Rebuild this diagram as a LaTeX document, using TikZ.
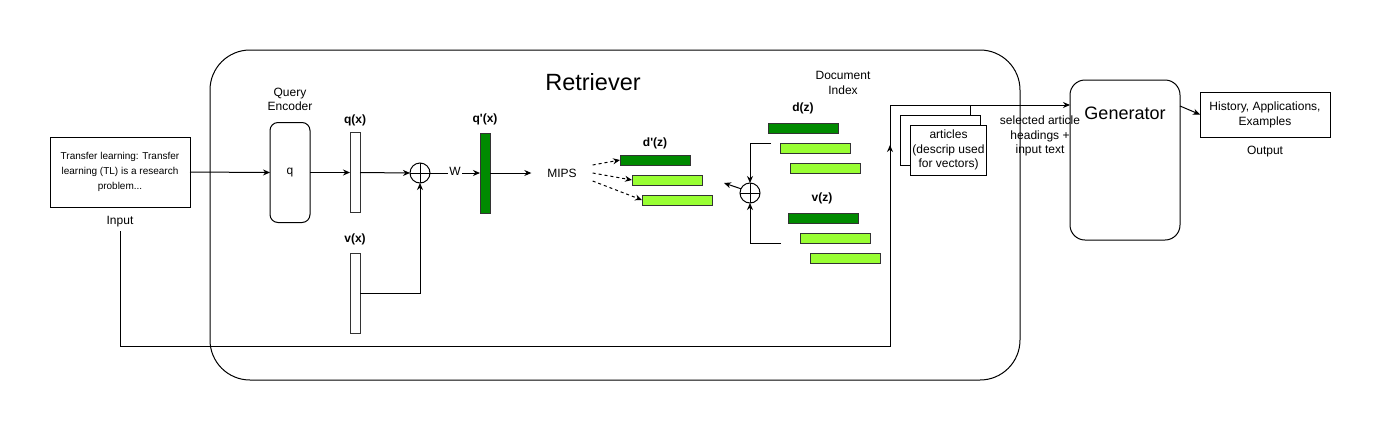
\documentclass[tikz,border=0pt]{standalone}
\usepackage{fontspec}
\setmainfont[Ligatures=TeXOff]{Liberation Sans}
\usetikzlibrary{arrows.meta,calc}
\definecolor{dgreen}{HTML}{008A00}
\definecolor{lgreen}{HTML}{99FF33}
\begin{document}
\begin{tikzpicture}[x=1pt,y=-1pt,
  every node/.style={inner sep=0pt, outer sep=0pt},
  txt/.style={font=\fontsize{12}{14.5}\selectfont, align=center},
  btxt/.style={font=\fontsize{12}{14.5}\selectfont\bfseries},
  ln/.style={line width=1pt, draw=black},
  arr/.style={ln, -{Stealth[length=7pt,width=6pt]}},
  darr/.style={arr, dash pattern=on 3pt off 3pt},
  plainbox/.style={draw, line width=1pt, fill=white},
  vbar/.style={draw=black!80, line width=1pt, minimum width=10pt, minimum height=80pt},
  hbar/.style={draw=black!80, line width=1pt, minimum width=70pt, minimum height=10pt},
  plus/.style={draw, circle, line width=1pt, minimum size=20pt,
    path picture={\draw[line width=1pt] (path picture bounding box.north) -- (path picture bounding box.south)
      (path picture bounding box.west) -- (path picture bounding box.east);}},
]
\fill[white] (0,0) rectangle (1382,432);
\useasboundingbox (0,0) rectangle (1382,432);

% Retriever container
\node[draw, line width=1pt, rounded corners=40pt, minimum width=810pt, minimum height=330pt] (ret) at (615,215) {};
\node[font=\fontsize{23.5}{26}\selectfont] (rett) at (593,82) {Retriever};

% Input
\node[plainbox, minimum width=140pt, minimum height=70pt, align=center, font=\fontsize{10}{15}\selectfont] (inp) at (120,172)
  {Transfer learning: Transfer\\learning (TL) is a research\\problem...};
\node[txt] (inl) at (120,222) {Input};

% Query encoder
\node[txt, font=\fontsize{12}{14}\selectfont] (qel) at (290,99) {Query\\Encoder};
\node[plainbox, rounded corners=8pt, minimum width=40pt, minimum height=100pt] (q) at (290,172.5) {};
\node[txt] (qt) at (290,173) {q};

% q(x), v(x)
\node[btxt] (qxl) at (355,120) {q(x)};
\node[vbar] (qx) at (355,172.5) {};
\node[btxt] (vxl) at (355,239) {v(x)};
\node[vbar] (vx) at (355,293) {};

\node[plus] (p1) at (420,173) {};

% q'(x)
\node[btxt] (qpxl) at (485,119) {q'(x)};
\node[vbar, fill=dgreen] (qpx) at (485,173) {};

% MIPS
\node[txt, minimum height=16pt, outer xsep=16pt] (mips) at (562,173) {MIPS};

% d'(z)
\node[btxt] (dpzl) at (655,143) {d'(z)};
\node[hbar, fill=dgreen] (dz1) at (655,160) {};
\node[hbar, fill=lgreen] (dz2) at (667,180) {};
\node[hbar, fill=lgreen] (dz3) at (677,200) {};

% Document index
\node[txt, font=\fontsize{12}{15.5}\selectfont] (dil) at (843,83) {Document\\Index};
\node[btxt] (dzl) at (803,108) {d(z)};
\node[hbar, fill=dgreen] (d1) at (803,128) {};
\node[hbar, fill=lgreen] (d2) at (815,148) {};
\node[hbar, fill=lgreen] (d3) at (825,168) {};
\node[btxt] (vzl) at (822,198) {v(z)};
\node[hbar, fill=dgreen] (v1) at (823,218) {};
\node[hbar, fill=lgreen] (v2) at (835,238) {};
\node[hbar, fill=lgreen] (v3) at (845,258) {};

\node[plus] (p2) at (750,193) {};

% articles stack
\node[plainbox, minimum width=80pt, minimum height=50pt] (mid) at (940,140) {};
\node[plainbox, minimum width=76pt, minimum height=50pt, txt, font=\fontsize{12}{14.2}\selectfont] (art) at (948.5,150)
  {articles\\(descrip used\\for vectors)};

\node[txt, font=\fontsize{12}{14.5}\selectfont] (sel) at (1040,136) {selected article\\headings +\\input text};

% Generator
\node[draw, line width=1pt, rounded corners=15pt, minimum width=110pt, minimum height=160pt] (gen) at (1125,160) {};
\node[font=\fontsize{18}{21}\selectfont] (gent) at (1125,113) {Generator};

% Output
\node[plainbox, minimum width=130pt, minimum height=45pt, txt, font=\fontsize{12}{15}\selectfont] (out) at (1265,114.5)
  {History, Applications,\\Examples};
\node[txt] (outl) at (1265,152) {Output};

% coordinates
\coordinate (bl) at (120,346);
\coordinate (br) at (890,346);
\coordinate (tl) at (890,105);
\coordinate (ma) at (890,145);
\coordinate (st) at (970,105);
\coordinate (c1) at (771,143);
\coordinate (c2) at (781,243);
\coordinate (c3) at (724,183);

% connectors
\draw[arr] (inp.east) -- (q.west);
\draw[arr] (q.east) -- (qx.west);
\draw[arr] (qx.east) -- (p1.west);
\draw[arr] (vx.east) -| (p1.south);
\draw[arr] (p1.east) -- node[fill=white, inner sep=1pt, font=\fontsize{12}{14}\selectfont, yshift=2pt] (wl) {W} (qpx.west);
\draw[arr] (qpx.east) -- (mips.west);
\draw[darr] (mips.north east) -- (dz1.west);
\draw[darr] (mips.east) -- (dz2.west);
\draw[darr] (mips.south east) -- (dz3.west);
\draw[arr] (c1) -| (p2.north);
\draw[arr] (c2) -| (p2.south);
\draw[arr] (p2.155) -- (c3);
\draw[ln, -{Stealth[length=7pt,width=6pt]}] ([yshift=-4pt]inl.south) -- (bl) -- (br) -- (tl) -- (gen.west |- tl);
\draw[arr] (br) -- (ma);
\draw[ln] (mid.north -| st) -- (st);
\draw[arr] ($(gen.north east)+(0,26)$) -- (out.west);
\end{tikzpicture}
\end{document}
